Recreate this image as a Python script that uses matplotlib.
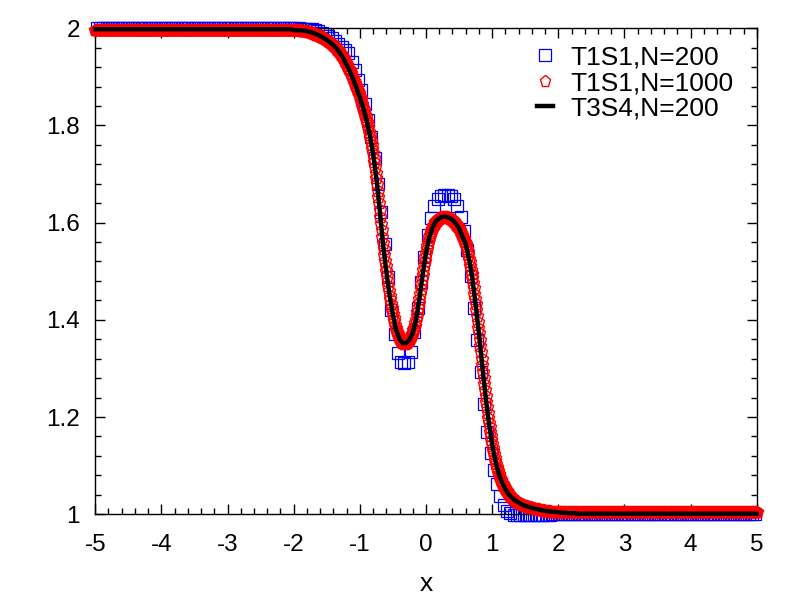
import matplotlib
matplotlib.use("Agg")
import matplotlib.pyplot as plt
import numpy as np
from matplotlib.ticker import MultipleLocator

plt.rcParams['font.family'] = ['Liberation Sans', 'DejaVu Sans']

blue_left = 2.0
blue_right = 1.0
blue_mid = [
    2.000, 2.000, 2.000, 1.999, 1.999, 1.998, 1.998, 1.996, 1.994, 1.991,
    1.988, 1.984, 1.979, 1.974, 1.968, 1.962, 1.956, 1.948, 1.931, 1.914,
    1.893, 1.872, 1.845, 1.812, 1.776, 1.732, 1.680, 1.622, 1.556, 1.488,
    1.421, 1.370, 1.332, 1.314, 1.311, 1.314, 1.334, 1.374, 1.424, 1.478,
    1.530, 1.574, 1.610, 1.634, 1.648, 1.655, 1.657, 1.657, 1.655, 1.648,
    1.634, 1.612, 1.582, 1.543, 1.490, 1.425, 1.358, 1.292, 1.226, 1.169,
    1.125, 1.090, 1.062, 1.037, 1.018, 1.007, 1.002, 0.999, 0.998, 0.998,
    0.998, 0.998, 0.998, 0.998, 0.998, 0.998, 0.999, 0.999, 0.999, 1.000,
    1.000, 1.000,
]
n_blue = 200
blue_start = 59  # index of x=-2.025

red_left = 1.996
red_mid = [
    1.996, 1.996, 1.996, 1.996, 1.996, 1.996, 1.996, 1.996, 1.996, 1.996,  # -2.0
    1.996, 1.996, 1.995, 1.995, 1.995, 1.995, 1.995, 1.994, 1.994, 1.994,  # -1.9
    1.994, 1.994, 1.993, 1.993, 1.992, 1.992, 1.992, 1.991, 1.991, 1.990,  # -1.8
    1.990, 1.989, 1.988, 1.988, 1.987, 1.987, 1.986, 1.985, 1.985, 1.984,  # -1.7
    1.984, 1.983, 1.982, 1.982, 1.981, 1.980, 1.979, 1.978, 1.978, 1.977,  # -1.6
    1.976, 1.975, 1.974, 1.973, 1.972, 1.971, 1.970, 1.969, 1.967, 1.966,  # -1.5
    1.965, 1.964, 1.963, 1.961, 1.960, 1.958, 1.956, 1.955, 1.953, 1.951,  # -1.4
    1.949, 1.947, 1.945, 1.943, 1.940, 1.938, 1.936, 1.933, 1.931, 1.928,  # -1.3
    1.925, 1.922, 1.919, 1.917, 1.914, 1.911, 1.908, 1.905, 1.901, 1.898,  # -1.2
    1.895, 1.891, 1.888, 1.884, 1.881, 1.877, 1.873, 1.870, 1.866, 1.862,  # -1.1
    1.858, 1.854, 1.849, 1.845, 1.840, 1.836, 1.831, 1.826, 1.822, 1.817,  # -1.0
    1.812, 1.806, 1.800, 1.794, 1.787, 1.781, 1.774, 1.767, 1.759, 1.751,  # -0.9
    1.743, 1.733, 1.724, 1.714, 1.703, 1.692, 1.679, 1.666, 1.653, 1.640,  # -0.8
    1.626, 1.612, 1.598, 1.584, 1.571, 1.557, 1.545, 1.533, 1.522, 1.511,  # -0.7
    1.500, 1.490, 1.479, 1.469, 1.460, 1.450, 1.442, 1.433, 1.425, 1.418,  # -0.6
    1.411, 1.404, 1.397, 1.390, 1.384, 1.378, 1.374, 1.370, 1.366, 1.363,  # -0.5
    1.360, 1.358, 1.356, 1.354, 1.353, 1.352, 1.352, 1.351, 1.351, 1.352,  # -0.4
    1.352, 1.353, 1.354, 1.356, 1.357, 1.359, 1.361, 1.364, 1.367, 1.370,  # -0.3
    1.373, 1.378, 1.383, 1.388, 1.394, 1.400, 1.408, 1.416, 1.425, 1.434,  # -0.2
    1.443, 1.453, 1.463, 1.473, 1.483, 1.493, 1.503, 1.512, 1.521, 1.530,  # -0.1
    1.538, 1.545, 1.552, 1.559, 1.564, 1.570, 1.574, 1.579, 1.583, 1.586,  # 0.0
    1.590, 1.593, 1.596, 1.598, 1.601, 1.603, 1.604, 1.605, 1.607, 1.608,  # 0.1
    1.609, 1.610, 1.611, 1.611, 1.612, 1.612, 1.612, 1.612, 1.612, 1.612,  # 0.2
    1.612, 1.612, 1.611, 1.611, 1.610, 1.610, 1.609, 1.608, 1.608, 1.607,  # 0.3
    1.606, 1.604, 1.603, 1.601, 1.600, 1.598, 1.596, 1.594, 1.592, 1.590,  # 0.4
    1.588, 1.585, 1.582, 1.578, 1.575, 1.572, 1.569, 1.566, 1.563, 1.560,  # 0.5
    1.556, 1.551, 1.546, 1.540, 1.533, 1.526, 1.518, 1.511, 1.503, 1.494,  # 0.6
    1.486, 1.476, 1.465, 1.454, 1.443, 1.432, 1.420, 1.408, 1.396, 1.384,  # 0.7
    1.372, 1.359, 1.346, 1.333, 1.320, 1.306, 1.293, 1.280, 1.268, 1.255,  # 0.8
    1.243, 1.231, 1.220, 1.209, 1.198, 1.188, 1.179, 1.170, 1.161, 1.152,  # 0.9
    1.144, 1.137, 1.130, 1.123, 1.116, 1.109, 1.103, 1.098, 1.093, 1.088,  # 1.0
    1.083, 1.079, 1.075, 1.071, 1.068, 1.065, 1.062, 1.059, 1.057, 1.054,  # 1.1
    1.052, 1.050, 1.047, 1.045, 1.043, 1.041, 1.039, 1.038, 1.036, 1.035,  # 1.2
    1.034, 1.033, 1.032, 1.030, 1.029, 1.028, 1.027, 1.026, 1.026, 1.025,  # 1.3
    1.024, 1.023, 1.022, 1.022, 1.021, 1.020, 1.019, 1.018, 1.018, 1.017,  # 1.4
    1.017, 1.017, 1.016, 1.016, 1.015, 1.015, 1.015, 1.014, 1.014, 1.013,  # 1.5
    1.013, 1.013, 1.012, 1.012, 1.011, 1.011, 1.011, 1.010, 1.010, 1.010,  # 1.6
    1.010, 1.010, 1.009, 1.009, 1.009, 1.008, 1.008, 1.008, 1.008, 1.007,  # 1.7
    1.007, 1.007, 1.007, 1.007, 1.006, 1.006, 1.006, 1.006, 1.006, 1.005,  # 1.8
    1.005, 1.005, 1.005, 1.005, 1.005, 1.005, 1.005, 1.005, 1.005, 1.005,  # 1.9
    1.005,
]
red_right = 1.005
n_red = 1001
red_start = 300  # index of x=-2.00

# T3S4, N=200 : x = -5 + 0.05*j; the core follows the fine profile, tails sit a bit closer to 2 and 1
line_left = 1.998
line_right = [1.004, 1.003, 1.003, 1.002, 1.002, 1.002, 1.001, 1.001]
line_far = 1.001
n_line = 201
line_start = 60  # index of x=-2.00

labels = ['T1S1,N=200', 'T1S1,N=1000', 'T3S4,N=200']
xticks = [-5, -4, -3, -2, -1, 0, 1, 2, 3, 4, 5]
yticks = [1, 1.2, 1.4, 1.6, 1.8, 2]
ytick_labels = ['1', '1.2', '1.4', '1.6', '1.8', '2']

# assemble series
y_blue = np.array([blue_left] * blue_start + blue_mid
                  + [blue_right] * (n_blue - blue_start - len(blue_mid)))
x_blue = -4.975 + 0.05 * np.arange(n_blue)

y_red = np.array([red_left] * red_start + red_mid
                 + [red_right] * (n_red - red_start - len(red_mid)))
x_red = -5 + 0.01 * np.arange(n_red)

line_mid = red_mid[::5]
y_line = [line_left] * line_start + line_mid[:-1] + line_right
y_line = np.array(y_line + [line_far] * (n_line - len(y_line)))
x_line = -5 + 0.05 * np.arange(n_line)

fig = plt.figure(figsize=(8, 6), dpi=100)
ax = fig.add_axes([0.119, 0.143, 0.827, 0.81])

ax.plot(x_blue, y_blue, ls='none', marker='s', ms=8.4, mfc='none',
        mec='blue', mew=0.9, clip_on=False, label=labels[0], zorder=2)
ax.plot(x_red, y_red, ls='none', marker='p', ms=9.2, mfc='none',
        mec='red', mew=1.0, clip_on=False, label=labels[1], zorder=3)
ax.plot(x_line, y_line, color='black', lw=3.2, clip_on=False,
        label=labels[2], zorder=4)

ax.set_xlim(-5, 5)
ax.set_ylim(1, 2)
ax.set_xticks(xticks)
ax.set_xticklabels([str(t) for t in xticks])
ax.set_yticks(yticks)
ax.set_yticklabels(ytick_labels)
ax.xaxis.set_minor_locator(MultipleLocator(0.2))
ax.yaxis.set_minor_locator(MultipleLocator(0.04))

ax.tick_params(which='both', direction='in', top=True, right=True,
               width=1.0, labelsize=17.5)
ax.tick_params(which='major', length=7.5)
ax.tick_params(which='minor', length=4)
ax.tick_params(axis='x', pad=14)
ax.tick_params(axis='y', pad=11)
for s in ax.spines.values():
    s.set_linewidth(1.0)

ax.set_xlabel('x', fontsize=19, labelpad=12)

leg = ax.legend(loc='upper left', bbox_to_anchor=(0.668, 0.964), frameon=False,
                fontsize=19, borderpad=0, borderaxespad=0, labelspacing=0.05,
                handlelength=0.6, handletextpad=0.65)
leg.legend_handles[1].set_markersize(8.3)

fig.savefig('out.png', dpi=100)
